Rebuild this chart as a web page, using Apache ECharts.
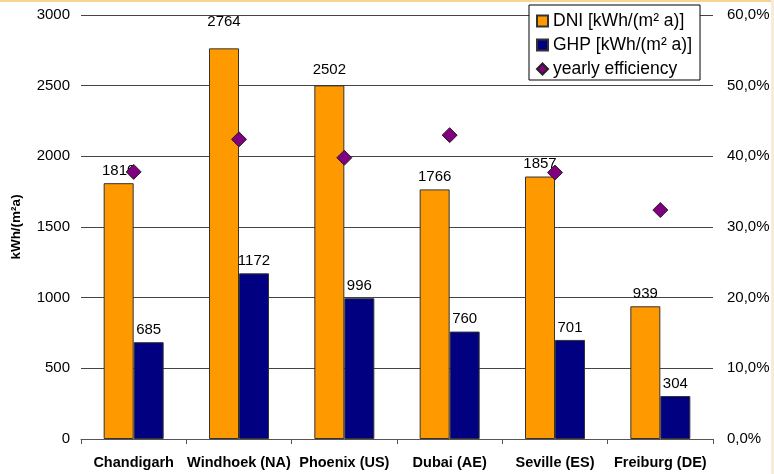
<!DOCTYPE html>
<html>
<head>
<meta charset="utf-8">
<script src="https://cdn.jsdelivr.net/npm/echarts@6/dist/echarts.min.js"></script>
<style>
html,body{margin:0;padding:0;background:#fff;}
#c{width:774px;height:474px;}
</style>
</head>
<body>
<div id="c"></div>
<script>
var categories = ['Chandigarh', 'Windhoek (NA)', 'Phoenix (US)', 'Dubai (AE)', 'Seville (ES)', 'Freiburg (DE)'];
var dni = [1810, 2764, 2502, 1766, 1857, 939];
var ghp = [685, 1172, 996, 760, 701, 304];
var efficiency = [37.8, 42.4, 39.8, 43.0, 37.7, 32.4];
var leftTicks = [0, 500, 1000, 1500, 2000, 2500, 3000];
var rightTicks = [0, 10, 20, 30, 40, 50, 60];

var FONT = "'Liberation Sans', Arial, sans-serif";
var labelDist = [5, 19, 8, 5, 5, 5];

var chart = echarts.init(document.getElementById('c'));
chart.setOption({
  animation: false,
  textStyle: {fontFamily: FONT},
  graphic: [
    {type: 'rect', shape: {x: 0, y: 0, width: 774, height: 2}, style: {fill: '#f6d493'}, silent: true},
    {type: 'rect', shape: {x: 771, y: 0, width: 3, height: 474}, style: {fill: '#f7ecd8'}, silent: true}
  ],
  grid: {left: 81, right: 61, top: 15, bottom: 35, containLabel: false},
  legend: {
    orient: 'vertical',
    left: 529, top: 5,
    padding: [6, 8, 1, 7],
    backgroundColor: '#fff',
    borderColor: '#000',
    borderWidth: 1,
    itemWidth: 11, itemHeight: 11,
    itemGap: 4,
    textStyle: {fontFamily: FONT, fontSize: 17.5, color: '#000', lineHeight: 20},
    data: [
      {name: 'DNI [kWh/(m² a)]', icon: 'rect'},
      {name: 'GHP [kWh/(m² a)]', icon: 'rect'},
      {name: 'yearly efficiency', icon: 'diamond'}
    ]
  },
  xAxis: {
    type: 'category',
    data: categories,
    axisLine: {lineStyle: {color: '#555', width: 1}},
    axisTick: {show: true, inside: false, length: 5, lineStyle: {color: '#555'}},
    axisLabel: {interval: 0, margin: 16, fontFamily: FONT, fontSize: 14.5, fontWeight: 'bold', color: '#000'}
  },
  yAxis: [
    {
      type: 'value', min: leftTicks[0], max: leftTicks[leftTicks.length - 1], interval: 500,
      name: 'kWh/(m²a)', nameLocation: 'middle', nameGap: 58,
      nameTextStyle: {fontFamily: FONT, fontSize: 13.5, fontWeight: 'bold', color: '#000'},
      axisLine: {show: false},
      axisTick: {show: false},
      splitLine: {show: true, lineStyle: {color: '#444', width: 1}},
      axisLabel: {margin: 11, fontFamily: FONT, fontSize: 15, color: '#000',
        formatter: function (v) { return String(v); }}
    },
    {
      type: 'value', min: rightTicks[0], max: rightTicks[rightTicks.length - 1], interval: 10,
      position: 'right',
      axisLine: {show: false},
      axisTick: {show: false},
      splitLine: {show: false},
      axisLabel: {margin: 14, fontFamily: FONT, fontSize: 15, color: '#000',
        formatter: function (v) { return v.toFixed(1).replace('.', ',') + '%'; }}
    }
  ],
  series: [
    {
      name: 'DNI [kWh/(m² a)]', type: 'bar', barWidth: 30, barGap: '0%',
      itemStyle: {color: '#FF9900', borderColor: '#333', borderWidth: 1},
      label: {show: true, position: 'top', distance: 5, fontFamily: FONT, fontSize: 15, color: '#000'},
      data: dni.map(function (v, i) { return {value: v, label: {distance: labelDist[i]}}; })
    },
    {
      name: 'GHP [kWh/(m² a)]', type: 'bar', barWidth: 30, barGap: '0%',
      itemStyle: {color: '#000080', borderColor: '#333', borderWidth: 1},
      label: {show: true, position: 'top', distance: 5, fontFamily: FONT, fontSize: 15, color: '#000'},
      data: ghp
    },
    {
      name: 'yearly efficiency', type: 'scatter', yAxisIndex: 1, z: 5,
      symbol: 'diamond', symbolSize: 15,
      itemStyle: {color: '#800080', borderColor: '#222', borderWidth: 1, opacity: 1},
      data: efficiency
    }
  ]
});
</script>
</body>
</html>
